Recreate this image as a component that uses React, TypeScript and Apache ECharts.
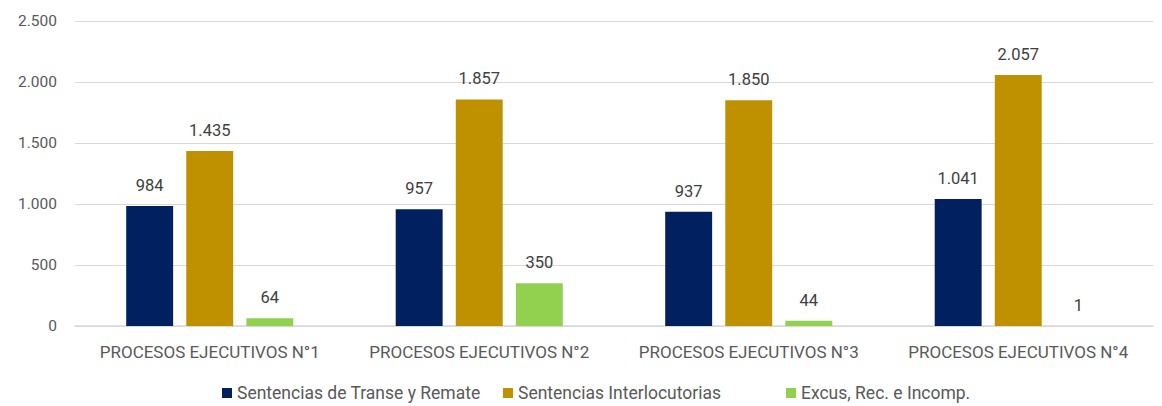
import React, { useEffect, useRef } from "react";
import * as echarts from "echarts";

const categories = ["PROCESOS EJECUTIVOS N°1", "PROCESOS EJECUTIVOS N°2", "PROCESOS EJECUTIVOS N°3", "PROCESOS EJECUTIVOS N°4"];
const seriesNames = ["Sentencias de Transe y Remate", "Sentencias Interlocutorias", "Excus, Rec. e Incomp."];
const transeRemate = [984, 957, 937, 1041];
const interlocutorias = [1435, 1857, 1850, 2057];
const excusRec = [64, 350, 44, 1];
const colors = ["#002060", "#BF9000", "#92D050"];

const fmt = (v: number) => String(v).replace(/\B(?=(\d{3})+(?!\d))/g, ".");

export default function App() {
  const ref = useRef<HTMLDivElement>(null);
  useEffect(() => {
    const chart = echarts.init(ref.current!, null, { renderer: "svg" });
    const font = "Roboto";
    const textColor = "#595959";
    const legendLefts = [217, 498, 781];
    const mk = (name: string, data: number[], color: string) => ({
      name,
      type: "bar",
      data,
      itemStyle: { color },
      barGap: "28%",
      barCategoryGap: "38%",
      label: {
        show: true,
        position: "top",
        distance: 12,
        color: "#404040",
        fontFamily: font,
        fontSize: 16.5,
        formatter: (p: any) => fmt(p.value),
      },
    });
    chart.setOption({
      animation: false,
      textStyle: { fontFamily: font },
      grid: { left: 75, right: 9, top: 21, bottom: 80, containLabel: false },
      legend: seriesNames.map((n, i) => ({
        bottom: -1,
        left: legendLefts[i],
        itemWidth: 10,
        itemHeight: 10,
        icon: "rect",
        textStyle: { color: textColor, fontFamily: font, fontSize: 17.5 },
        data: [n],
      })),
      xAxis: {
        type: "category",
        data: categories,
        axisLine: { lineStyle: { color: "#d9d9d9", width: 1.5 } },
        axisTick: { show: false },
        axisLabel: { color: textColor, fontFamily: font, fontSize: 17, margin: 17, interval: 0, hideOverlap: false },
      },
      yAxis: {
        type: "value",
        min: 0,
        max: 2500,
        interval: 500,
        axisLine: { show: false },
        axisTick: { show: false },
        splitLine: { lineStyle: { color: "#d9d9d9", width: 1.2 } },
        axisLabel: { color: textColor, fontFamily: font, fontSize: 15.5, margin: 18, formatter: (v: number) => fmt(v) },
      },
      series: [
        mk(seriesNames[0], transeRemate, colors[0]),
        mk(seriesNames[1], interlocutorias, colors[1]),
        mk(seriesNames[2], excusRec, colors[2]),
      ],
    });
    return () => chart.dispose();
  }, []);
  return <div ref={ref} style={{ width: 1162, height: 406, position: "absolute", left: 0, top: 0 }} />;
}
